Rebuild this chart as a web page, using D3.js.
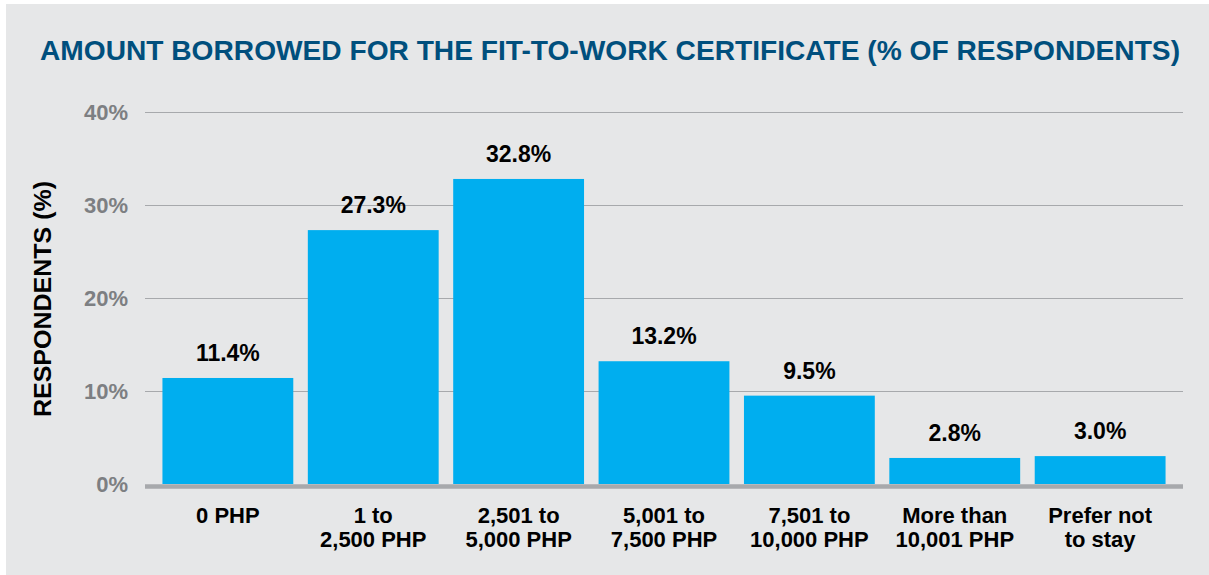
<!DOCTYPE html>
<html>
<head>
<meta charset="utf-8">
<script src="https://cdn.jsdelivr.net/npm/d3@7"></script>
<style>
  body { margin: 0; background: #ffffff; }
  text { font-family: "Liberation Sans", Arial, sans-serif; font-weight: bold; }
</style>
</head>
<body>
<div id="chart"></div>
<script>
var svgWidth = 1209;
var svgHeight = 575;

// chart data
var categories = ["0 PHP", "1 to|2,500 PHP", "2,501 to|5,000 PHP", "5,001 to|7,500 PHP",
  "7,501 to|10,000 PHP", "More than|10,001 PHP", "Prefer not|to stay"];
var values = [11.4, 27.3, 32.8, 13.2, 9.5, 2.8, 3.0];
var valueLabels = ["11.4%", "27.3%", "32.8%", "13.2%", "9.5%", "2.8%", "3.0%"];
var yTicks = [0, 10, 20, 30, 40];
var yTickLabels = ["0%", "10%", "20%", "30%", "40%"];

var plot = { left: 145, right: 1183, top: 112, bottom: 484 };

var svg = d3.select("#chart")
  .append("svg")
  .attr("width", svgWidth)
  .attr("height", svgHeight);

svg.append("rect")
  .attr("x", 6)
  .attr("y", 4)
  .attr("width", svgWidth - 6)
  .attr("height", svgHeight - 4)
  .attr("fill", "#e6e7e8");

var xScale = d3.scaleBand()
  .domain(categories)
  .range([plot.left, plot.right])
  .paddingInner(0.1)
  .paddingOuter(0.12);

var yScale = d3.scaleLinear()
  .domain([0, 40])
  .range([plot.bottom, plot.top]);

// title
svg.append("text")
  .attr("x", 40)
  .attr("y", 60)
  .attr("fill", "#004f7d")
  .style("font-size", "28px")
  .attr("textLength", 1140)
  .attr("lengthAdjust", "spacingAndGlyphs")
  .text("AMOUNT BORROWED FOR THE FIT-TO-WORK CERTIFICATE (% OF RESPONDENTS)");

// gridlines + y tick labels
var leftAxis = d3.axisLeft(yScale)
  .tickValues(yTicks)
  .tickSize(-(plot.right - plot.left))
  .tickPadding(17)
  .tickFormat(function(d, i) { return yTickLabels[i]; });

var yAxis = svg.append("g")
  .attr("transform", "translate(" + plot.left + ",0)")
  .call(leftAxis);

yAxis.select(".domain").remove();
yAxis.selectAll(".tick line")
  .attr("stroke", "#a7a9ac")
  .attr("stroke-width", 1.2)
  .attr("opacity", function(d) { return d === 0 ? 0 : 1; });
yAxis.selectAll(".tick text")
  .attr("fill", "#7d7f82")
  .attr("dy", "0.36em")
  .style("font-size", "22px")
  .style("font-family", "'Liberation Sans', Arial, sans-serif");

// y axis title
svg.append("text")
  .attr("transform", "translate(51," + 299 + ") rotate(-90)")
  .attr("text-anchor", "middle")
  .attr("fill", "#000000")
  .style("font-size", "24px")
  .attr("textLength", 236)
  .attr("lengthAdjust", "spacingAndGlyphs")
  .text("RESPONDENTS (%)");

// bars
svg.append("g")
  .selectAll("rect")
  .data(values)
  .enter()
  .append("rect")
  .attr("x", function(d, i) { return xScale(categories[i]); })
  .attr("y", function(d) { return yScale(d); })
  .attr("width", xScale.bandwidth())
  .attr("height", function(d) { return yScale(0) - yScale(d); })
  .attr("fill", "#00aeef");

// value labels
svg.append("g")
  .selectAll("text")
  .data(values)
  .enter()
  .append("text")
  .attr("x", function(d, i) { return xScale(categories[i]) + xScale.bandwidth() / 2; })
  .attr("y", function(d) { return yScale(d) - 17; })
  .attr("text-anchor", "middle")
  .attr("fill", "#000000")
  .style("font-size", "23px")
  .text(function(d, i) { return valueLabels[i]; });

// baseline
svg.append("line")
  .attr("x1", plot.left)
  .attr("x2", plot.right)
  .attr("y1", yScale(0) + 2.5)
  .attr("y2", yScale(0) + 2.5)
  .attr("stroke", "#a7a9ac")
  .attr("stroke-width", 4.5);

// category labels
var catLabels = svg.append("g")
  .selectAll("text")
  .data(categories)
  .enter()
  .append("text")
  .attr("text-anchor", "middle")
  .attr("fill", "#000000")
  .style("font-size", "22px");

catLabels.each(function(d) {
  var cx = xScale(d) + xScale.bandwidth() / 2;
  var lines = d.split("|");
  d3.select(this).selectAll("tspan")
    .data(lines)
    .enter()
    .append("tspan")
    .attr("x", cx)
    .attr("y", function(l, j) { return 523 + j * 24; })
    .text(function(l) { return l; });
});
</script>
</body>
</html>
